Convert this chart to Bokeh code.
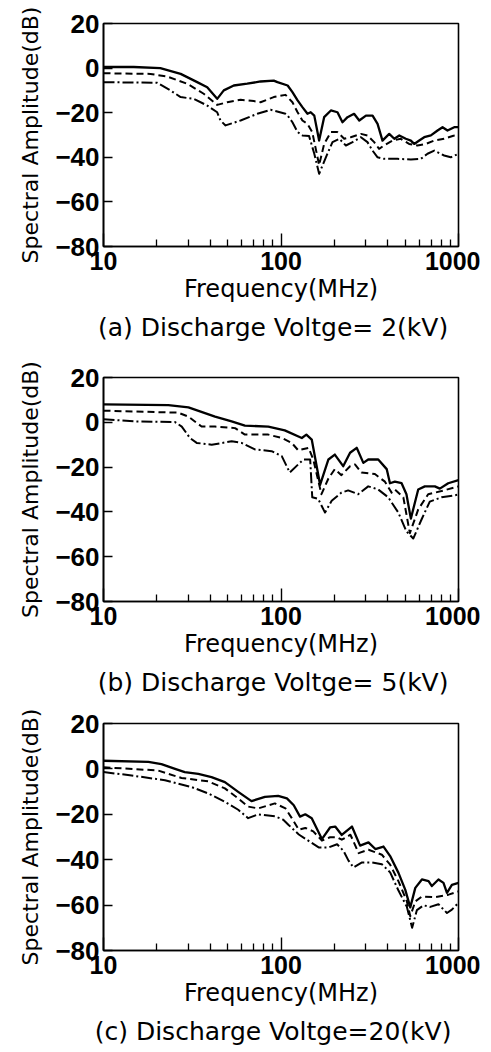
from bokeh.plotting import figure
from bokeh.models import FixedTicker, Range1d, Title
from bokeh.layouts import column
from bokeh.embed import file_html
from bokeh.resources import INLINE

# ---------------- data (Frequency in MHz, Spectral Amplitude in dB) ----------------
x_major_ticks = [10, 100, 1000]
x_tick_labels = ["10", "100", "1000"]
x_minor_ticks = [20, 30, 40, 50, 60, 70, 80, 90, 200, 300, 400, 500, 600, 700, 800, 900]
y_ticks = [-80, -60, -40, -20, 0, 20]
captions = ["(a)  Discharge  Voltge= 2(kV)",
            "(b)  Discharge  Voltge= 5(kV)",
            "(c)  Discharge  Voltge=20(kV)"]

# panel (a) 2 kV
a_solid_f = [10, 14.8, 20.9, 27.2, 33.7, 38.4, 43.7, 47.6, 54.2, 64.5, 76.7, 91, 95.5, 109, 116, 124, 132, 141, 147, 154,
             164, 175, 191, 208, 222, 237, 258, 276, 301, 328, 350, 373, 407, 435, 464, 505, 539, 563, 601, 641,
             699, 762, 813, 867, 946, 1000]
a_solid_db = [0.5, 0.5, 0.0, -2.6, -6.3, -8.6, -13.8, -10, -7.8, -7.0, -6.0, -5.6, -6.3, -7.8, -10.8, -14.5, -17.5, -20.5, -19.8, -21.3,
              -32.5, -22, -19, -19.8, -24.3, -22, -20.5, -23.5, -21.3, -21.3, -25, -32.5, -29.5, -31.7, -30.2, -31.7, -32.5, -34, -32.5, -31,
              -30.2, -28, -26.5, -28, -26.5, -26.5]
a_dash_f = [10, 18.4, 22.9, 29.6, 36.7, 43.7, 49.8, 59.2, 70.3, 76.7, 91, 106, 116, 124, 132, 141, 150, 164, 175, 191,
            208, 227, 247, 282, 307, 335, 357, 381, 425, 473, 527, 587, 655, 730, 830, 946, 1000]
a_dash_db = [-2.3, -2.6, -3.8, -7.0, -11.5, -16.5, -15.3, -14.2, -14.8, -15.3, -13.0, -12.0, -15.3, -19.8, -23.5, -25, -28.7, -43.5, -34, -28.7,
             -28.7, -31.7, -31, -29.5, -30.2, -33.2, -36.2, -34.7, -32.5, -31.7, -34, -34.7, -34, -32.5, -31.7, -30.2, -29.5]
a_dd_f = [10, 20.1, 23.8, 27.2, 32.3, 38.4, 43.7, 45.6, 48.7, 59.2, 73.5, 87.3, 106, 109, 116, 124, 132, 144, 154, 164,
          179, 195, 213, 232, 253, 282, 307, 328, 350, 381, 453, 539, 613, 669, 730, 830, 905, 1000]
a_dd_db = [-6.3, -6.6, -10, -13, -13.8, -16.8, -19.8, -23.5, -25.7, -23.5, -20.5, -18.7, -20.5, -21.3, -24.3, -28.7, -30.2, -30.5, -38.4, -47.4,
           -40, -33.2, -31.7, -34.7, -33.2, -31, -33.2, -37, -40, -40.7, -40.7, -41, -40.7, -38.4, -37, -39.2, -40, -38.4]

# panel (b) 5 kV
b_solid_f = [10, 23.2, 30.1, 42.5, 52.7, 62.6, 84.8, 105, 131, 139, 149, 166, 185, 201, 224, 245, 267, 291, 310, 353,
             394, 411, 438, 478, 509, 539, 593, 646, 736, 785, 875, 1000]
b_solid_db = [8.0, 7.7, 6.7, 2.5, 0.4, -1.5, -1.9, -3.6, -7.0, -5.5, -7.7, -27.9, -16.6, -14.4, -19.6, -13.6, -11.4, -18.1, -16.6, -16.6,
              -20.9, -27.2, -26.5, -27.2, -32.1, -43, -30, -28.6, -28.6, -29.6, -27.2, -25.8]
b_dash_f = [10, 26.4, 30.1, 35.7, 42.5, 55.1, 62.6, 84.8, 101, 115, 125, 143, 152, 169, 185, 201, 219, 245, 261, 284,
            338, 385, 420, 438, 489, 532, 593, 675, 802, 1000]
b_dash_db = [5.2, 4.3, 2.5, -1.9, -1.9, -2.6, -5.5, -5.5, -7.0, -9.2, -12.5, -11.4, -16.6, -32.1, -25.1, -20.9, -23.6, -19.6, -18.8, -22.4,
             -23.1, -26.5, -31.4, -30, -33.5, -49.5, -38.9, -32.1, -30.7, -28.6]
b_dd_f = [10, 15.1, 25.3, 27.6, 30.7, 33.5, 40.7, 52.7, 60, 71.3, 88.5, 101, 112, 125, 134, 146, 150, 162, 177, 193,
          219, 239, 272, 310, 353, 402, 458, 509, 556, 619, 689, 802, 1000]
b_dd_db = [1.4, 0.4, 0.1, -1.9, -7.0, -9.2, -10.0, -8.5, -9.2, -12.1, -12.9, -15.1, -22.4, -18.8, -16.6, -16.6, -33.5, -34.2, -40.3, -35,
           -31.4, -30.4, -32.1, -28.6, -30, -33.5, -40.3, -48.7, -51.9, -43.4, -35.4, -33.5, -32.3]

# panel (c) 20 kV
c_solid_f = [10, 17.9, 21.2, 25.3, 28.7, 34.2, 40.6, 48.3, 57.4, 68.2, 81.2, 96.4, 108, 118, 128, 137, 149, 170, 189, 202,
             220, 251, 279, 311, 340, 378, 412, 459, 501, 535, 571, 622, 678, 708, 771, 823, 861, 918, 1000]
c_solid_db = [3.6, 3.1, 2.1, 0, -1.4, -2.2, -3.6, -5.8, -10.1, -14.2, -12.3, -11.9, -13.0, -16, -21, -20, -21.7, -30.9, -25.8, -25.4,
              -29.1, -25.4, -33.8, -32.4, -35.3, -34.2, -38.4, -45.8, -53.2, -61, -52.4, -48.7, -49.4, -51.6, -48.7, -50.2, -54.6, -51.1, -50.2]
c_dash_f = [10, 20.3, 23.2, 27.5, 38.9, 48.3, 57.4, 65.3, 74.4, 92.4, 106, 115, 126, 137, 152, 170, 189, 207, 220, 246,
            274, 311, 370, 412, 459, 512, 535, 571, 622, 739, 879, 1000]
c_dash_db = [0.7, -0.7, -2.2, -4.0, -5.5, -8.6, -13, -16.6, -17.4, -15.2, -17.4, -21.7, -26.8, -26, -27.5, -31.6, -30.1, -30.1, -31.2, -29,
             -37.1, -35.6, -37.8, -42.2, -49.5, -58.4, -64.9, -58.4, -56.2, -56.5, -55.4, -54]
c_dd_f = [10, 14.4, 22.2, 31.3, 38.9, 48.3, 57.4, 65.3, 74.4, 92.4, 103, 110, 126, 143, 163, 185, 207, 225, 240, 256,
          286, 325, 370, 412, 459, 512, 548, 583, 635, 693, 771, 861, 918, 1000]
c_dd_db = [-1.4, -2.9, -5.0, -8.0, -10.8, -14.5, -18.0, -21.7, -20, -20.9, -22.4, -24.6, -28.9, -31.7, -34.6, -34.6, -33.2, -36.1, -40.4, -43.4,
           -41.2, -41.2, -42, -45.6, -53.6, -60.8, -70, -62.2, -60.1, -60.8, -59.6, -63.5, -62, -59]

# ---------------- styling ----------------
FONT_NUM = "Liberation Sans"
FONT_TXT = "DejaVu Sans"
TOTAL_W = 480


def y_label(t):
    if t < 0:
        return "\u2212" + str(abs(t))
    return str(t)


def make_panel(caption, curves, top_b, left_b, frame_h, bottom_b):
    p = figure(x_axis_type="log", x_range=Range1d(10, 1000), y_range=Range1d(-80, 20),
               frame_width=355, frame_height=frame_h,
               min_border_left=left_b, min_border_right=TOTAL_W - left_b - 355,
               min_border_top=top_b, min_border_bottom=bottom_b,
               output_backend="svg", toolbar_location=None)
    p.background_fill_color = "white"
    p.border_fill_color = "white"
    p.outline_line_color = "black"
    p.outline_line_width = 1.6
    p.outline_line_alpha = 1.0
    p.xgrid.visible = False
    p.ygrid.visible = False

    # x axis
    xa = p.xaxis[0]
    xa.ticker = FixedTicker(ticks=x_major_ticks, minor_ticks=x_minor_ticks)
    xa.major_label_overrides = dict(zip(x_major_ticks, x_tick_labels))
    xa.major_tick_in = 13
    xa.major_tick_out = 0
    xa.minor_tick_in = 7
    xa.minor_tick_out = 0
    xa.axis_line_width = 1.6
    xa.major_tick_line_width = 1.4
    xa.minor_tick_line_width = 1.3
    xa.major_label_standoff = 5
    xa.major_label_text_font = FONT_NUM
    xa.major_label_text_font_size = "25px"
    xa.major_label_text_font_style = "bold"
    xa.major_label_text_color = "black"

    # y axis
    ya = p.yaxis[0]
    ya.ticker = FixedTicker(ticks=y_ticks, minor_ticks=[])
    ya.major_label_overrides = {t: y_label(t) for t in y_ticks}
    ya.major_tick_in = 9
    ya.major_tick_out = 0
    ya.axis_line_width = 1.6
    ya.major_tick_line_width = 1.5
    ya.major_label_standoff = 4
    ya.major_label_text_font = FONT_NUM
    ya.major_label_text_font_size = "26px"
    ya.major_label_text_font_style = "bold"
    ya.major_label_text_color = "black"
    ya.axis_label = "Spectral Amplitude(dB)"
    ya.axis_label_text_font = FONT_TXT
    ya.axis_label_text_font_size = "22px"
    ya.axis_label_text_font_style = "normal"
    ya.axis_label_text_color = "black"
    ya.axis_label_standoff = 9

    # curves
    styles = [dict(line_width=2.3),
              dict(line_width=2.0, line_dash="7 4"),
              dict(line_width=2.0, line_dash="11 3 2 3")]
    for (f, db), st in zip(curves, styles):
        p.line(f, db, line_color="black", line_join="round", **st)

    # x axis title and caption, stacked below the axis
    p.add_layout(Title(text="Frequency(MHz)", align="center", offset=-10, standoff=0,
                       text_font=FONT_TXT, text_font_size="24px", text_font_style="normal",
                       text_color="black"), "below")
    p.add_layout(Title(text=caption, align="center", offset=-20, standoff=16,
                       text_font=FONT_TXT, text_font_size="25px", text_font_style="normal",
                       text_color="black"), "below")
    return p


pa = make_panel(captions[0], [(a_solid_f, a_solid_db), (a_dash_f, a_dash_db), (a_dd_f, a_dd_db)],
                top_b=23, left_b=101, frame_h=223, bottom_b=105)
pb = make_panel(captions[1], [(b_solid_f, b_solid_db), (b_dash_f, b_dash_db), (b_dd_f, b_dd_db)],
                top_b=26, left_b=102, frame_h=224, bottom_b=102)
pc = make_panel(captions[2], [(c_solid_f, c_solid_db), (c_dash_f, c_dash_db), (c_dd_f, c_dd_db)],
                top_b=19, left_b=103, frame_h=227, bottom_b=103)

layout = column(pa, pb, pc, spacing=0)
open("out.html", "w").write(file_html(layout, INLINE))
